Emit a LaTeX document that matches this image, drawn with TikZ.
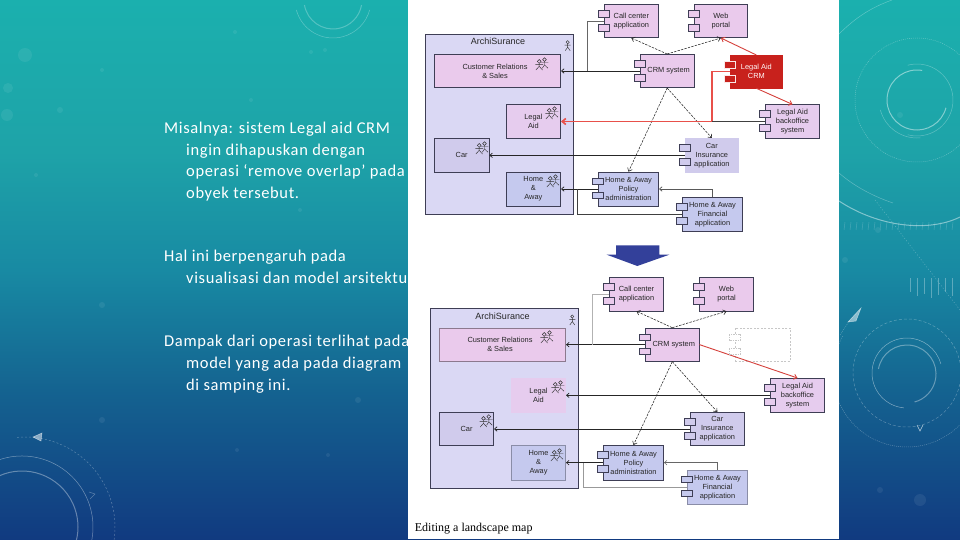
\documentclass[tikz,border=0pt]{standalone}
\usepackage{fontspec}
\setmainfont{Carlito}[LetterSpace=3.8]
\newfontfamily\diagfont{Liberation Sans}
\newfontfamily\capfont{Liberation Serif}
\usetikzlibrary{arrows.meta}
\definecolor{pinkb}{HTML}{EACAEC}
\definecolor{pinkl}{HTML}{E6CCEE}
\definecolor{lavb}{HTML}{D0CBEC}
\definecolor{bluebx}{HTML}{C5C9EE}
\definecolor{grp}{HTML}{DAD8F4}
\definecolor{edgec}{HTML}{3E3E55}
\definecolor{redb}{HTML}{C8211C}
\definecolor{redl}{HTML}{D5413C}
\definecolor{softred}{HTML}{E8504A}
\definecolor{arrowblue}{HTML}{33409A}
\definecolor{bgA}{HTML}{113A80}
\definecolor{bgB}{HTML}{14608F}
\definecolor{bgC}{HTML}{188AA3}
\definecolor{bgD}{HTML}{1EA3A8}
\definecolor{bgE}{HTML}{1BB0AE}
\pgfdeclareverticalshading{slidebg}{100bp}{
 color(0bp)=(bgA); color(25bp)=(bgA); color(38bp)=(bgB); color(50bp)=(bgC);
 color(61bp)=(bgD); color(75bp)=(bgE); color(100bp)=(bgE)}
\newcommand\boxnode[7]{%
 \pgfmathsetmacro\bxw{#4-#2}\pgfmathsetmacro\bxh{#5-#3}%
 \pgfmathsetmacro\bxc{(#4+#2)/2}\pgfmathsetmacro\byc{(#5+#3)/2}%
 \node[#6,minimum width=\bxw pt,minimum height=\bxh pt] (#1) at (\bxc,\byc) {#7};}
\newcommand\ports[2]{%
 \draw[portbox,fill=#2] ([shift={(-5.4,6.3)}]#1.north west) rectangle +(11,6.7);
 \draw[portbox,fill=#2] ([shift={(-5.4,20.3)}]#1.north west) rectangle +(11,6.7);}
% arc by visual angles (y axis points down)
\newcommand\carc[6]{\draw[#1] (#2,#3) ++(-#5:#4) arc (-#5:-#6:#4);}
\tikzset{
 compbox/.style={draw=edgec,line width=.6pt,inner sep=0pt,align=center,text=black!85,
   font=\diagfont\fontsize{7.4}{9}\selectfont},
 groupbox/.style={draw=edgec,line width=.7pt,fill=grp},
 portbox/.style={draw=edgec,line width=.6pt},
 flow/.style={draw=black!85,line width=.7pt,-{Straight Barb[length=2.6pt,width=4.5pt]}},
 plain/.style={draw=black!75,line width=.7pt},
 lightflow/.style={draw=black!40,line width=.6pt},
 dep/.style={draw=black!85,line width=.55pt,dash pattern=on 2.4pt off 1.2pt,-{Straight Barb[length=3pt,width=5pt]}},
 redflow/.style={draw=redl,line width=.9pt,-{Straight Barb[length=3pt,width=5pt]}},
 redwide/.style={draw=softred,line width=1.7pt},
 slide/.style={inner sep=0pt,anchor=base west,text=white,font=\fontsize{16.5}{18}\selectfont},
 deco/.style={draw=white,line width=.5pt,opacity=.3},
 decob/.style={draw=white,line width=1pt,opacity=.45},
 stick/.pic={\draw[black!80,line width=.45pt] (0,-3.5) circle (1.6) (0,-1.9)--(0,1.5) (-3,-.6)--(3,-.6) (0,1.5)--(-2.5,5) (0,1.5)--(2.5,5);},
 sticks/.pic={\begin{scope}[black!80,line width=.45pt]
   \draw (-2.5,-2.6) circle (1.9) (-2.5,-.7)--(-2.5,2.3) (-6.3,.3)--(1.3,.3) (-2.5,2.3)--(-5.8,6) (-2.5,2.3)--(.8,6);
   \draw (2.8,-4.4) circle (1.9) (2.8,-2.5)--(2.8,.9) (-1,-1.5)--(6.6,-1.5) (2.8,.9)--(.6,4.2) (2.8,.9)--(6.2,4.2);
   \end{scope}},
}
\begin{document}
\begin{tikzpicture}[x=1pt,y=-1pt]
\useasboundingbox (0,0) rectangle (960,540);
\shade[shading=slidebg] (0,0) rectangle (960,540);
\begin{scope}
\clip (0,0) rectangle (960,540);
% faint dots
\foreach \dx/\dy/\dr in {25/55/7,8/88/5,7/115/6,60/110/3,102/70/2,235/32/2,311/52/2,251/100/2,325/50/2,102/305/3,102/420/3,358/400/3,36/175/2,300/210/2,237/450/2,328/455/2,900/115/3,878/230/3,845/260/3,920/500/6,880/490/3}
  \fill[white,opacity=.07] (\dx,\dy) circle (\dr);
% top middle
\carc{decob,opacity=.25}{333}{0}{29}{190}{350}
\carc{deco}{333}{0}{38}{195}{345}
% bottom left
\carc{deco,opacity=.4}{22}{527}{71}{160}{-15}
\carc{decob,opacity=.35}{22}{527}{56}{115}{-15}
\carc{deco,dash pattern=on 2pt off 2pt}{25}{527}{90}{95}{-10}
\draw[deco,opacity=.5,fill=white] (33,437) -- (42,433) -- (41,441) -- cycle;
\draw[deco] (89,492) -- (95,494) -- (90,499);
% right top
\carc{decob}{917}{100}{30}{80}{345}
\carc{deco}{917}{100}{36}{105}{-105}
\carc{deco}{917}{100}{38}{195}{275}
\draw[deco,dash pattern=on 1pt off 1pt] (917,100) circle (62);
\draw[deco] (838,35) .. controls (855,18) and (870,8) .. (892,0);
\draw[deco] (839,173) .. controls (855,187) and (875,197) .. (893,203);
\draw[decob] (839,201) .. controls (880,228) and (930,232) .. (960,217);
\foreach \tx in {845,851,...,957}
  \draw[deco,opacity=.2] (\tx,222) -- ++(-1,8);
\foreach \tx/\th in {910/14,917/18,924/16,931/20,938/17,945/14,952/18}
  \draw[deco] (\tx,278) -- ++(0,\th);
\draw[deco,dash pattern=on 1pt off 2pt] (875,200) -- (960,310);
% right bottom
\carc{decob,opacity=.35}{907}{374}{29}{170}{-75}
\carc{deco,opacity=.45}{907}{373}{35}{90}{265}
\carc{deco,opacity=.45}{907}{373}{35}{90}{15}
\carc{deco,dash pattern=on 3pt off 2pt}{907}{373}{54}{0}{360}
\carc{deco,dash pattern=on 1pt off 1pt}{907}{373}{74}{150}{330}
\draw[deco,opacity=.5,fill=white] (848,322) -- (861,308) -- (856,321) -- cycle;
\draw[deco,dash pattern=on 1pt off 1pt] (840,335) -- (850,320);
\draw[deco,opacity=.7] (917,425) -- (920,431) -- (923,425);
\end{scope}
% slide text
\node[slide] (t1) at (164,133.5) {Misalnya: sistem Legal aid CRM};
\node[slide] (t2) at (186,155.5) {ingin dihapuskan dengan};
\node[slide] (t3) at (186,177) {operasi ‘remove overlap’ pada};
\node[slide] (t4) at (186,198.5) {obyek tersebut.};
\node[slide] (t5) at (164,261) {Hal ini berpengaruh pada};
\node[slide] (t6) at (186,283) {visualisasi dan model arsitektu};
\node[slide] (t7) at (164,346) {Dampak dari operasi terlihat pada};
\node[slide] (t8) at (186,368) {model yang ada pada diagram};
\node[slide] (t9) at (186,390) {di samping ini.};
% white panel
\fill[white] (408,0) rectangle (839,539.3);
% ---- upper diagram
\boxnode{ga}{425.3}{34.3}{573.7}{214.7}{groupbox}{}
\node[font=\diagfont\fontsize{9}{10}\selectfont,text=black!85,anchor=base] (gat) at (498,45) {ArchiSurance};
\boxnode{acs}{434.3}{54.3}{560.7}{87.7}{compbox,fill=pinkb}{Customer Relations\hspace*{5pt}\\\& Sales\hspace*{5pt}}
\boxnode{ala}{506}{104.7}{560.7}{138.3}{compbox,fill=pinkl}{Legal\\Aid}
\boxnode{acar}{434.3}{138.3}{489}{172.3}{compbox,fill=lavb}{Car}
\boxnode{aha}{506}{172}{560.7}{206}{compbox,fill=bluebx}{Home\\\&\\Away}
\boxnode{acall}{604}{4.3}{658.7}{37.7}{compbox,fill=pinkb}{Call center\\application}
\boxnode{aweb}{694}{4.3}{747.7}{37.7}{compbox,fill=pinkb}{Web\\portal}
\boxnode{acrm}{640.3}{54.3}{694}{87.7}{compbox,fill=pinkb}{\hspace*{3pt}CRM system}
\boxnode{alac}{730}{55.3}{782.7}{88}{compbox,draw=redb,fill=redb,text=white!90!pink}{Legal Aid\\CRM}
\boxnode{abo}{765.3}{104.7}{819.7}{138.3}{compbox,fill=pinkl}{Legal Aid\\backoffice\\system}
\boxnode{aci}{685}{138.3}{738.7}{172.3}{compbox,draw=lavb,fill=lavb}{Car\\Insurance\\application}
\boxnode{apol}{598.3}{172}{658.7}{206}{compbox,fill=bluebx}{Home \& Away\\Policy\\administration}
\boxnode{afin}{682.3}{197.7}{742.7}{231.7}{compbox,fill=bluebx}{Home \& Away\\Financial\\application}
\coordinate (e1) at (587,71);
\coordinate (e2) at (711.7,121.5);
\coordinate (e3) at (577.7,189);
\draw[flow] (acrm.west) -- (acs.east);
\draw[draw=black!60,line width=.7pt] (acall.west) -| (e1);
\draw[dep] (acrm.north) -- (acall.south);
\draw[dep] (acrm.north) -- (aweb.south);
\draw[dep] (acrm.south) -- (apol.north);
\draw[dep] (acrm.south) -- (aci.north);
\draw[plain] (abo.west) -- (e2);
\draw[redwide] (alac.west) -- (alac.west -| e2) -- (e2);
\draw[redwide,-{Straight Barb[length=3.5pt,width=6pt]}] (e2) -- (ala.east);
\draw[redflow] (alac.north) -- (aweb.south);
\draw[redflow] (alac.south) -- (abo.north);
\draw[flow] (aci.west) -- (acar.east);
\draw[flow] (apol.west) -- (aha.east);
\draw[flow,draw=black!65] (afin.north) |- (apol.east);
\draw[plain] (afin.west) -| (e3);
\ports{acall}{pinkb}\ports{aweb}{pinkb}\ports{acrm}{pinkb}\ports{abo}{pinkl}
\ports{aci}{lavb}\ports{apol}{bluebx}\ports{afin}{bluebx}
\draw[portbox,draw=white!90!redb,fill=redb] ([shift={(-5.4,6.3)}]alac.north west) rectangle +(11,6.7);
\draw[portbox,draw=white!90!redb,fill=redb] ([shift={(-5.4,20.3)}]alac.north west) rectangle +(11,6.7);
\pic at (567.7,45.7) {stick};
\pic at (541.7,64) {sticks};
\pic at (551.7,113) {sticks};
\pic at (481.7,148) {sticks};
\pic at (552.7,181) {sticks};
% block arrow
\fill[arrowblue] (616,245.3) -- (659.3,245.3) -- (659.3,254.7) -- (669.3,254.7) -- (637.3,266) -- (606.7,254.7) -- (616,254.7) -- cycle;
% ---- lower diagram
\boxnode{gb}{430.3}{308}{578.3}{488.7}{groupbox}{}
\node[font=\diagfont\fontsize{9}{10}\selectfont,text=black!85,anchor=base] (gbt) at (502.5,319) {ArchiSurance};
\boxnode{bcs}{439.3}{328}{565.7}{361.3}{compbox,draw=pinkb!60!black,fill=pinkb}{Customer Relations\hspace*{5pt}\\\& Sales\hspace*{5pt}}
\boxnode{bla}{511.3}{378.3}{565.7}{412.3}{compbox,draw=pinkl,fill=pinkl}{Legal\\Aid}
\boxnode{bcar}{439.3}{412.3}{493.7}{445.7}{compbox,fill=lavb}{Car}
\boxnode{bha}{511.3}{445.3}{565.7}{480}{compbox,draw=bluebx!70!black,fill=bluebx}{Home\\\&\\Away}
\boxnode{bcall}{609.3}{277.3}{663.7}{311}{compbox,fill=pinkb}{Call center\\application}
\boxnode{bweb}{699.3}{277.3}{753.7}{311}{compbox,fill=pinkb}{Web\\portal}
\boxnode{bcrm}{645.3}{328}{699.3}{361.3}{compbox,fill=pinkb}{\hspace*{3pt}CRM system}
\boxnode{bgh}{735}{328}{790}{361.3}{draw=black!22,dash pattern=on 2pt off 1.5pt,line width=.6pt}{}
\boxnode{bbo}{770.3}{378.3}{824.7}{412.3}{compbox,fill=pinkl}{Legal Aid\\backoffice\\system}
\boxnode{bci}{690.3}{412.3}{744.3}{445.7}{compbox,fill=lavb}{Car\\Insurance\\application}
\boxnode{bpol}{603.3}{445.3}{663.7}{480}{compbox,fill=bluebx}{Home \& Away\\Policy\\administration}
\boxnode{bfin}{687.3}{470}{747.7}{504.7}{compbox,draw=bluebx!70!black,fill=bluebx}{Home \& Away\\Financial\\application}
\coordinate (f1) at (592.3,344.7);
\coordinate (f3) at (583.3,462.7);
\draw[flow] (bcrm.west) -- (bcs.east);
\draw[draw=black!30,line width=.6pt] (bcall.west) -| (f1);
\draw[dep] (bcrm.north) -- (bcall.south);
\draw[dep] (bcrm.north) -- (bweb.south);
\draw[dep] (bcrm.south) -- (bpol.north);
\draw[dep] (bcrm.south) -- (bci.north);
\draw[redflow] (bcrm.east) -- (bbo.north);
\draw[flow] (bbo.west) -- (bla.east);
\draw[flow] (bci.west) -- (bcar.east);
\draw[flow,line width=.6pt] (bpol.west) -- (bha.east);
\draw[flow,line width=.5pt,draw=black!60] (bfin.north) |- (bpol.east);
\draw[lightflow] (bfin.west) -| (f3);
\ports{bcall}{pinkb}\ports{bweb}{pinkb}\ports{bcrm}{pinkb}\ports{bbo}{pinkl}
\ports{bci}{lavb}\ports{bpol}{bluebx}\ports{bfin}{bluebx}
\draw[draw=black!22,line width=.5pt,dash pattern=on 1.5pt off 1pt,fill=white] ([shift={(-5.4,6.3)}]bgh.north west) rectangle +(11,6.7);
\draw[draw=black!22,line width=.5pt,dash pattern=on 1.5pt off 1pt,fill=white] ([shift={(-5.4,20.3)}]bgh.north west) rectangle +(11,6.7);
\pic at (572.3,320) {stick};
\pic at (546.7,337) {sticks};
\pic at (557.7,387) {sticks};
\pic at (486,421) {sticks};
\pic at (556.7,455) {sticks};
\node[anchor=base west,inner sep=0pt,font=\capfont\fontsize{12}{14}\selectfont,text=black] (cap) at (414.7,531.7) {Editing a landscape map};
\end{tikzpicture}
\end{document}
